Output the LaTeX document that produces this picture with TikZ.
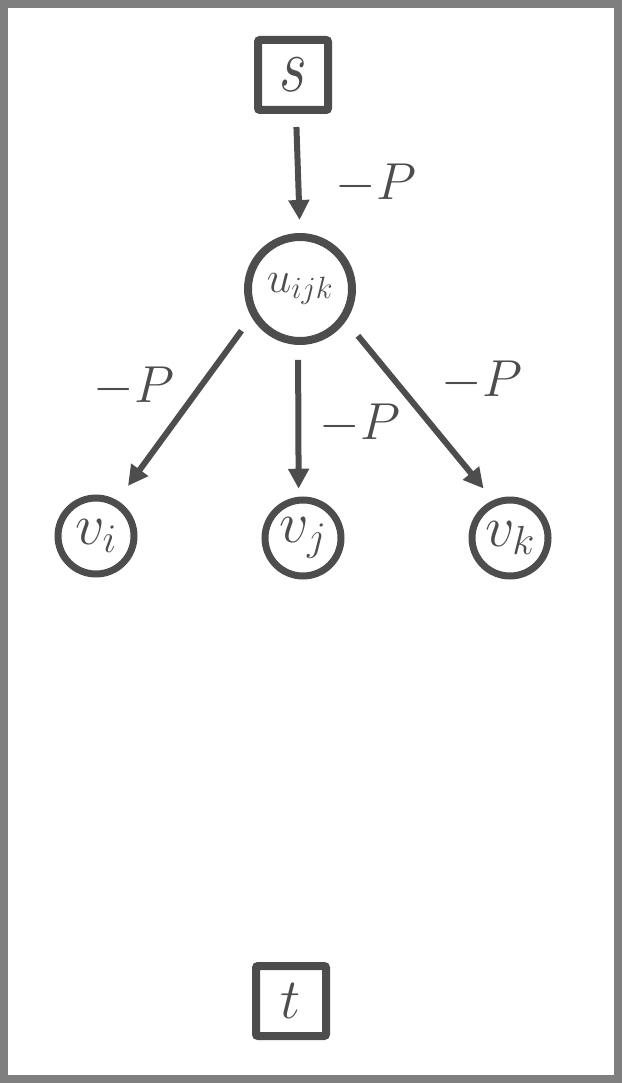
\RequirePackage{fix-cm}
\documentclass[tikz,border=0pt]{standalone}
\usetikzlibrary{arrows.meta}
\definecolor{ink}{HTML}{4D4D4D}
\definecolor{framec}{HTML}{7F7F7F}
\begin{document}
\begin{tikzpicture}[x=1pt,y=-1pt,
  termbox/.style={draw=ink,line width=8pt,minimum size=70pt,inner sep=0pt,rounded corners=2pt,text=ink},
  bigvtx/.style={circle,draw=ink,line width=8pt,minimum size=104pt,inner sep=0pt,text=ink,font=\fontsize{44}{50}\selectfont},
  vtx/.style={circle,draw=ink,line width=7pt,minimum size=76pt,inner sep=0pt,text=ink,font=\fontsize{58}{64}\selectfont},
  arr/.style={draw=ink,line width=6pt,-{Triangle[length=20pt,width=20pt]}},
  lbl/.style={text=ink,inner sep=0pt,font=\fontsize{52}{60}\selectfont}]
\useasboundingbox (0,0) rectangle (622,1083);
\draw[framec,line width=8pt] (4,4) rectangle (618,1079);
\node[termbox,font=\fontsize{60}{66}\selectfont] (s) at (293,75) {\scalebox{1}[1.3]{$s$}};
\node[termbox,font=\fontsize{57}{64}\selectfont] (t) at (291,1001) {$t$};
\node[bigvtx] (u) at (300,289) {$u_{ijk}$};
\node[vtx] (vi) at (96,536) {$v_i$};
\node[vtx] (vj) at (303,538) {$v_j$};
\node[vtx] (vk) at (510,538) {$v_k$};
\draw[arr,shorten <=13pt,shorten >=13pt] ([xshift=3pt]s.south) -- (u.north);
\draw[arr,shorten <=17pt,shorten >=18pt] (u.210) -- (vi.59);
\draw[arr,shorten <=15pt,shorten >=8pt] (u.268) -- (vj.96);
\draw[arr,shorten <=19pt,shorten >=15pt] (u.325) -- (vk.114);
\node[lbl] (l1) at (376,184) {$-P$};
\node[lbl] (l2) at (134,387) {$-P$};
\node[lbl] (l3) at (360,424) {$-P$};
\node[lbl] (l4) at (482,381) {$-P$};
\end{tikzpicture}
\end{document}
